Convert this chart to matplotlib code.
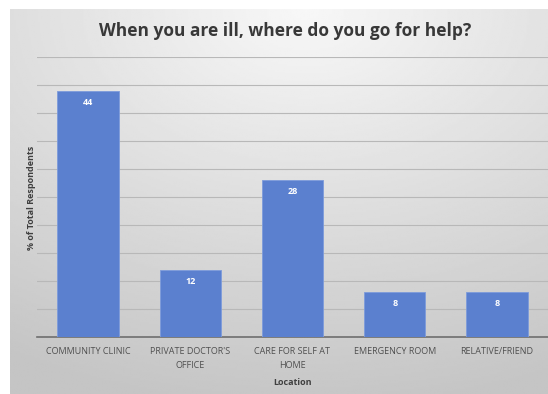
import numpy as np
import matplotlib
matplotlib.use("Agg")
import matplotlib.pyplot as plt

categories = ["COMMUNITY CLINIC", "PRIVATE DOCTOR'S\nOFFICE", "CARE FOR SELF AT\nHOME",
              "EMERGENCY ROOM", "RELATIVE/FRIEND"]
values = [44, 12, 28, 8, 8]
yticks = list(range(0, 55, 5))

plt.rcParams['font.family'] = ['Open Sans', 'DejaVu Sans']

fig = plt.figure(figsize=(5.48, 3.94), dpi=100)
fig.patch.set_facecolor('white')

# gradient chart background, light at top centre, darker towards the bottom
bg = fig.add_axes([10 / 548, 0, 1 - 10 / 548, 1 - 9 / 394], zorder=-2)
yy, xx = np.mgrid[0:1:200j, 0:1:300j]
d = np.sqrt(((xx - 0.55) * 1.0) ** 2 + (yy * 1.05) ** 2)
shade = 0.97 - 0.2 * np.clip(d / 1.1, 0, 1)
bg.imshow(shade, cmap='gray', vmin=0, vmax=1, aspect='auto', extent=[0, 1, 0, 1], origin='upper')
bg.axis('off')

ax = fig.add_axes([37 / 548, 57 / 394, 1 - 37 / 548, (337 - 57) / 394])
ax.patch.set_alpha(0)
x = np.arange(len(categories))
bars = ax.bar(x, values, width=0.6, color='#5b80cf', edgecolor='#7d9bdb', linewidth=0.6, zorder=3)
for b, v in zip(bars, values):
    ax.text(b.get_x() + b.get_width() / 2, v - 2.1, str(v), ha='center', va='center',
            color='white', fontsize=6.5, fontweight='bold', zorder=4)

ax.set_xlim(-0.5, len(categories) - 0.5)
ax.set_ylim(0, 50)
ax.set_yticks(yticks)
ax.yaxis.grid(True, color='#b8b8b8', linewidth=0.8)
ax.set_axisbelow(True)
ax.tick_params(axis='y', length=0, labelleft=False)
ax.tick_params(axis='x', length=0, pad=7, labelsize=6.5, labelcolor='#505050')
ax.set_xticks(x)
ax.set_xticklabels(categories, linespacing=1.7)
for s in ['top', 'right', 'left']:
    ax.spines[s].set_visible(False)
ax.spines['bottom'].set_color('#6e6e6e')
ax.spines['bottom'].set_linewidth(1.2)

ax.set_xlabel('Location', fontsize=6.5, fontweight='bold', color='#404040', labelpad=6)
fig.text(32 / 548, 1 - 198 / 394, '% of Total Respondents', rotation=90, ha='center', va='center',
         fontsize=6.5, fontweight='bold', color='#404040')
fig.text(0.52, 1 - 31 / 394, 'When you are ill, where do you go for help?', ha='center', va='center',
         fontsize=12.5, fontweight='bold', color='#383838')

fig.savefig('out.png', dpi=100)
